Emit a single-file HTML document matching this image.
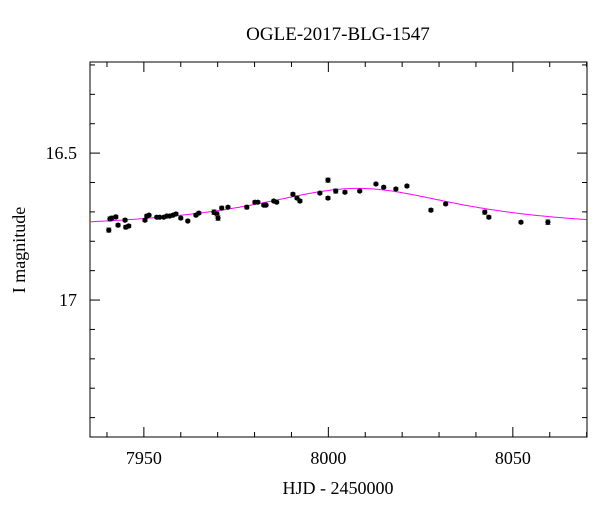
<!DOCTYPE html>
<html><head><meta charset="utf-8"><style>
body{margin:0;background:#fff;}
svg text{font-family:"Liberation Serif",serif;fill:#000;}
</style></head><body>
<svg id="chart" width="600" height="512" xmlns="http://www.w3.org/2000/svg">
<text x="338" y="40" font-size="19" text-anchor="middle">OGLE-2017-BLG-1547</text>
<text x="338" y="494" font-size="18" text-anchor="middle">HJD - 2450000</text>
<text transform="translate(25,250) rotate(-90)" font-size="18" text-anchor="middle">I magnitude</text>
<g id="plot"></g>
</svg>
<script>
const hjd=[7940.5,7940.8,7941.3,7942.4,7943.0,7944.9,7945.1,7945.9,7950.3,7950.8,7951.4,7953.5,7954.3,7955.4,7956.2,7957.0,7957.9,7958.7,7960.0,7961.9,7964.1,7964.9,7969.0,7969.8,7970.1,7971.1,7972.8,7977.9,7980.1,7980.9,7982.5,7983.1,7985.2,7986.0,7990.4,7991.5,7992.3,7997.7,7999.9,7999.9,8002.0,8004.5,8008.5,8012.9,8015.0,8018.3,8021.3,8027.8,8031.8,8042.4,8043.5,8052.2,8059.5];
const mag=[16.762,16.724,16.721,16.717,16.745,16.728,16.752,16.748,16.728,16.714,16.711,16.718,16.718,16.718,16.714,16.714,16.711,16.707,16.721,16.731,16.711,16.704,16.701,16.707,16.721,16.687,16.684,16.684,16.667,16.667,16.677,16.677,16.663,16.667,16.64,16.653,16.663,16.636,16.592,16.653,16.629,16.633,16.629,16.605,16.616,16.622,16.612,16.694,16.673,16.701,16.718,16.735,16.735];
const err=[0.007,0.007,0.006,0.005,0.005,0.005,0.006,0.005,0.005,0.005,0.004,0.004,0.004,0.004,0.004,0.004,0.004,0.004,0.004,0.004,0.005,0.004,0.008,0.007,0.008,0.006,0.004,0.006,0.005,0.004,0.004,0.004,0.004,0.004,0.005,0.004,0.005,0.004,0.007,0.005,0.007,0.005,0.004,0.004,0.004,0.004,0.004,0.005,0.004,0.007,0.005,0.004,0.008];
const xTicks=[7950,8000,8050];
const yTicks=[16.5,17];
const yLabels=["16.5","17"];
const X0=7935.4,X1=8070.1,Y0=16.19,Y1=17.466;
const L=90,R=587,T=62,B=437;
const sx=v=>L+(v-X0)/(X1-X0)*(R-L);
const sy=v=>T+(v-Y0)/(Y1-Y0)*(B-T);
const ns="http://www.w3.org/2000/svg";
const g=document.getElementById('plot');
function mk(t,a){const e=document.createElementNS(ns,t);for(const k in a)e.setAttribute(k,a[k]);g.appendChild(e);return e;}
const frame=mk('rect',{x:L,y:T,width:R-L,height:B-T,fill:'none',stroke:'#000','stroke-width':1});


for(let v=7940;v<=8070;v+=10){const major=v%50===0;const len=major?10:5;const x=sx(v);
 const t1=mk('line',{x1:x,x2:x,y1:B,y2:B-len,stroke:'#000'});
 
 
 const t2=mk('line',{x1:x,x2:x,y1:T,y2:T+len,stroke:'#000'});
 
 }
xTicks.forEach(v=>{const t=mk('text',{x:sx(v),y:B+27,'font-size':18,'text-anchor':'middle'});t.textContent=v;
 
 });
for(let i=2;i<=14;i++){const v=16+i*0.1;const major=(i%5===0);const len=major?10:5;const y=sy(v);
 const t1=mk('line',{x1:L,x2:L+len,y1:y,y2:y,stroke:'#000'});
 
 
 const t2=mk('line',{x1:R,x2:R-len,y1:y,y2:y,stroke:'#000'});
 
 }
yTicks.forEach((v,i)=>{const t=mk('text',{x:L-13,y:sy(v)+6,'font-size':18,'text-anchor':'end'});t.textContent=yLabels[i];
 
 });
const t0=8008,tau=35,base=16.76,amp=0.14;
let d='';for(let t=X0;t<=X1;t+=0.5){const m=base-amp/(1+((t-t0)/tau)**2);d+=(d?'L':'M')+sx(t).toFixed(1)+','+sy(m).toFixed(1);}
const c=mk('path',{d:d,fill:'none',stroke:'#ff00ff','stroke-width':1});


hjd.forEach((h,i)=>{const x=sx(h),y=sy(mag[i]),e1=sy(mag[i]-err[i]),e2=sy(mag[i]+err[i]);
 const eb=mk('path',{d:`M${x},${e1}L${x},${e2}M${x-2.5},${e1}L${x+2.5},${e1}M${x-2.5},${e2}L${x+2.5},${e2}`,stroke:'#555','stroke-width':1,fill:'none'});
 
 
 const p=mk('circle',{cx:x,cy:y,r:2.6,fill:'#000'});
 
 });
</script>
</body></html>
